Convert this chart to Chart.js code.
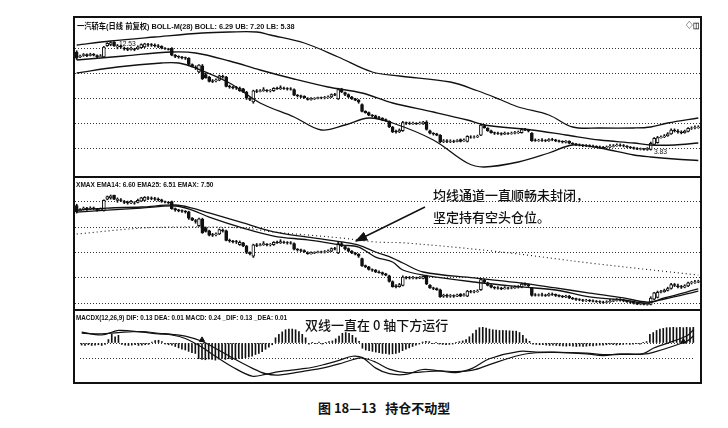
<!DOCTYPE html>
<html>
<head>
<meta charset="utf-8">
<script src="https://cdn.jsdelivr.net/npm/chart.js@4.4.0/dist/chart.umd.min.js"></script>
<style>
    body { margin: 0; width: 728px; height: 428px; background: #fff; position: relative; overflow: hidden;
           font-family: "Liberation Sans", "Noto Sans CJK SC", sans-serif; color: #111; }
    canvas { position: absolute; left: 75px; }
    .marco { position: absolute; left: 73px; top: 16px; width: 629px; height: 368px; box-sizing: border-box; border: 2px solid #111; }
    .sep { position: absolute; left: 74px; width: 627px; border-top: 2px solid #111; }
    .tit { position: absolute; font-size: 8px; font-weight: bold; white-space: nowrap; transform: scaleX(0.84); transform-origin: 0 0; }
    .nota { position: absolute; font-family: "Noto Sans CJK SC", sans-serif; font-size: 13px; font-weight: 500; white-space: pre; line-height: 18px; }
</style>
</head>
<body>
<canvas id="grafico1" width="625" height="158" style="top:18px"></canvas>
<canvas id="grafico2" width="625" height="131" style="top:178px"></canvas>
<canvas id="grafico3" width="625" height="71" style="top:311px"></canvas>
<div class="marco"></div>
<div class="sep" style="top:176px"></div>
<div class="sep" style="top:309px"></div>

<div class="tit" style="left:77px;top:20px;transform:scaleX(0.91)">一汽轿车(日线 前复权) BOLL-M(28) BOLL: 6.29 UB: 7.20 LB: 5.38</div>
<div class="tit" style="left:686px;top:19px">◇◫</div>
<div class="tit" style="left:119px;top:39px;font-weight:normal">12.53</div>
<div class="tit" style="left:654px;top:147px;font-weight:normal">3.83</div>
<div class="tit" style="left:76px;top:180px;transform:scaleX(0.82)">XMAX  EMA14: 6.60 EMA25: 6.51 EMAX: 7.50</div>
<div class="tit" style="left:76px;top:313px;transform:scaleX(0.79)">MACDX(12,26,9) DIF: 0.13 DEA: 0.01 MACD: 0.24 _DIF: 0.13 _DEA: 0.01</div>

<div class="nota" style="left:433px;top:186px">均线通道一直顺畅未封闭，</div>
<div class="nota" style="left:433px;top:208px">坚定持有空头仓位。</div>
<div class="nota" style="left:305px;top:316px">双线一直在 0 轴下方运行</div>
<div class="nota" style="left:318px;top:399px;font-weight:bold">图 18—13   持仓不动型</div>

<svg style="position:absolute;left:0;top:0" width="728" height="428">
    <defs><marker id="punta" markerWidth="9" markerHeight="7" refX="8" refY="3.5" orient="auto">
        <path d="M0,0 L9,3.5 L0,7 z" fill="#111"/></marker></defs>
    <line x1="425" y1="207" x2="356" y2="241" stroke="#111" stroke-width="1.4" marker-end="url(#punta)"/>
</svg>

<script>
// ====================== velas (precios) ======================
let apertura = [
    11.7, 11.3, 11.42, 11.5, 11.42, 11.52, 11.42, 11.35, 11.3, 12.2,
    12.3, 12.5, 12.1, 12.15, 12.0, 11.95, 11.9, 11.9, 11.95, 12.05,
    12.1, 12.3, 12.3, 12.25, 12.2, 12.15, 12.0, 11.95, 12.0, 11.45,
    11.35, 11.3, 11.25, 11.2, 10.7, 10.5, 10.1, 10.6, 9.9, 9.7,
    9.4, 9.4, 9.45, 9.75, 9.7, 8.95, 8.9, 8.85, 8.6, 8.75,
    8.5, 8.0, 7.7, 8.6, 8.55, 8.6, 8.65, 8.6, 8.6, 8.8,
    8.75, 8.8, 8.78, 8.75, 8.7, 8.25, 8.2, 8.15, 7.95, 7.9,
    7.95, 7.98, 8.05, 8.02, 8.05, 8.1, 8.3, 7.95, 8.7, 8.45,
    8.3, 8.1, 7.95, 7.85, 7.5, 6.95, 6.85, 6.65, 6.6, 6.45,
    6.4, 6.3, 6.15, 5.7, 5.35, 5.3, 5.4, 6.05, 6.0, 5.98,
    6.0, 5.97, 5.95, 6.1, 5.4, 5.2, 5.15, 5.05, 4.55, 4.6,
    4.55, 4.58, 4.55, 4.7, 4.6, 4.55, 4.9, 4.88, 4.9, 5.05,
    5.8, 5.6, 5.4, 5.25, 5.2, 5.18, 5.12, 5.2, 5.18, 5.2,
    5.25, 5.25, 5.5, 5.45, 5.2, 4.65, 4.62, 4.65, 4.62, 4.6,
    4.7, 4.68, 4.6, 4.55, 4.48, 4.55, 4.4, 4.35, 4.28, 4.25,
    4.2, 4.22, 4.18, 4.15, 4.12, 4.08, 4.05, 4.1, 4.15, 4.2,
    4.25, 4.22, 4.18, 4.1, 4.05, 3.98, 3.92, 3.95, 3.9, 3.9,
    4.3, 4.45, 4.85, 4.9, 5.0, 5.15, 5.45, 5.35, 5.3, 5.25,
    5.35, 5.6, 5.62, 5.65
];
let cierre = [
    11.2, 11.38, 11.5, 11.4, 11.5, 11.45, 11.32, 11.4, 12.1, 12.4,
    12.45, 12.2, 12.2, 12.1, 11.95, 11.9, 12.0, 11.88, 12.1, 12.3,
    12.35, 12.28, 12.25, 12.2, 12.15, 12.05, 11.98, 11.9, 11.45, 11.35,
    11.3, 11.25, 11.2, 10.7, 10.55, 10.45, 10.65, 9.55, 9.65, 9.35,
    9.35, 9.45, 9.8, 9.7, 8.95, 8.9, 8.85, 8.82, 8.8, 8.5,
    8.0, 7.9, 8.6, 8.55, 8.6, 8.7, 8.6, 8.62, 8.8, 8.75,
    8.85, 8.78, 8.75, 8.72, 8.25, 8.2, 8.15, 8.05, 7.9, 7.95,
    7.98, 8.05, 8.02, 8.05, 8.1, 8.3, 8.25, 8.7, 8.5, 8.3,
    8.1, 7.95, 7.85, 7.7, 6.95, 6.85, 6.65, 6.6, 6.45, 6.4,
    6.3, 6.2, 5.7, 5.3, 5.3, 5.45, 6.05, 6.0, 5.98, 6.0,
    5.97, 6.02, 6.1, 5.5, 5.2, 5.15, 5.05, 4.5, 4.6, 4.55,
    4.58, 4.55, 4.62, 4.55, 4.65, 4.95, 4.88, 4.9, 4.95, 5.85,
    5.65, 5.4, 5.25, 5.2, 5.18, 5.12, 5.2, 5.18, 5.2, 5.25,
    5.28, 5.5, 5.45, 5.38, 4.6, 4.62, 4.65, 4.62, 4.6, 4.7,
    4.68, 4.6, 4.55, 4.5, 4.55, 4.4, 4.35, 4.28, 4.25, 4.2,
    4.22, 4.18, 4.15, 4.12, 4.08, 4.05, 4.1, 4.15, 4.2, 4.25,
    4.22, 4.18, 4.1, 4.05, 3.98, 3.92, 3.95, 3.9, 3.98, 4.4,
    4.8, 4.85, 4.9, 5.0, 5.15, 5.45, 5.4, 5.3, 5.25, 5.35,
    5.6, 5.62, 5.65, 5.7
];
let maximo = [
    11.8, 11.45, 11.58, 11.55, 11.6, 11.58, 11.48, 11.5, 12.15, 12.45,
    12.53, 12.53, 12.3, 12.25, 12.1, 12.05, 12.1, 12.0, 12.2, 12.35,
    12.4, 12.4, 12.38, 12.35, 12.3, 12.2, 12.05, 12.0, 12.05, 11.5,
    11.4, 11.35, 11.3, 11.25, 10.75, 10.6, 10.7, 10.7, 10.0, 9.75,
    9.5, 9.55, 9.85, 9.85, 9.75, 9.05, 8.95, 8.95, 8.9, 8.8,
    8.55, 8.05, 8.65, 8.7, 8.7, 8.85, 8.7, 8.7, 8.85, 8.9,
    9.0, 8.9, 8.85, 8.85, 8.75, 8.3, 8.25, 8.2, 8.05, 8.05,
    8.05, 8.1, 8.1, 8.15, 8.2, 8.35, 8.4, 8.8, 8.8, 8.5,
    8.35, 8.15, 8.0, 7.9, 7.55, 7.0, 6.9, 6.7, 6.65, 6.55,
    6.45, 6.35, 6.2, 5.75, 5.45, 5.55, 6.15, 6.1, 6.1, 6.1,
    6.05, 6.1, 6.15, 6.2, 5.45, 5.25, 5.2, 5.1, 4.7, 4.7,
    4.68, 4.65, 4.7, 4.75, 4.75, 5.0, 5.0, 5.0, 5.05, 5.95,
    5.9, 5.65, 5.45, 5.3, 5.3, 5.25, 5.3, 5.25, 5.3, 5.35,
    5.38, 5.6, 5.6, 5.5, 5.25, 4.75, 4.72, 4.78, 4.7, 4.78,
    4.8, 4.72, 4.65, 4.6, 4.62, 4.6, 4.45, 4.4, 4.35, 4.3,
    4.3, 4.28, 4.25, 4.2, 4.18, 4.15, 4.18, 4.3, 4.3, 4.35,
    4.35, 4.3, 4.22, 4.15, 4.1, 4.05, 4.02, 4.0, 4.05, 4.5,
    4.85, 4.95, 5.0, 5.1, 5.25, 5.55, 5.55, 5.5, 5.4, 5.45,
    5.65, 5.72, 5.8, 5.8
];
let minimo = [
    11.1, 11.25, 11.35, 11.32, 11.38, 11.38, 11.25, 11.3, 11.25, 12.15,
    12.2, 12.15, 11.95, 12.0, 11.85, 11.8, 11.85, 11.8, 11.9, 12.0,
    12.05, 12.15, 12.15, 12.1, 12.05, 11.95, 11.9, 11.85, 11.4, 11.25,
    11.2, 11.15, 11.1, 10.6, 10.5, 10.3, 10.05, 9.5, 9.6, 9.3,
    9.25, 9.3, 9.4, 9.6, 8.9, 8.8, 8.75, 8.7, 8.55, 8.45,
    7.9, 7.8, 7.6, 8.45, 8.5, 8.55, 8.5, 8.5, 8.55, 8.7,
    8.7, 8.7, 8.65, 8.65, 8.2, 8.1, 8.05, 8.0, 7.85, 7.85,
    7.9, 7.95, 7.95, 7.95, 8.0, 8.05, 8.2, 7.9, 8.45, 8.2,
    8.05, 7.9, 7.8, 7.6, 6.9, 6.8, 6.6, 6.5, 6.4, 6.35,
    6.2, 6.15, 5.65, 5.25, 5.2, 5.25, 5.35, 5.9, 5.9, 5.9,
    5.9, 5.92, 5.9, 5.45, 5.15, 5.05, 5.0, 4.45, 4.45, 4.45,
    4.45, 4.45, 4.5, 4.5, 4.55, 4.5, 4.8, 4.8, 4.85, 5.0,
    5.6, 5.35, 5.2, 5.1, 5.1, 5.05, 5.1, 5.1, 5.12, 5.15,
    5.18, 5.2, 5.4, 5.3, 4.55, 4.55, 4.55, 4.55, 4.52, 4.55,
    4.6, 4.52, 4.48, 4.42, 4.42, 4.35, 4.28, 4.2, 4.18, 4.12,
    4.12, 4.1, 4.08, 4.05, 4.0, 3.98, 4.0, 4.05, 4.1, 4.15,
    4.15, 4.1, 4.05, 3.98, 3.92, 3.88, 3.86, 3.85, 3.83, 3.85,
    4.25, 4.4, 4.8, 4.85, 4.95, 5.1, 5.3, 5.2, 5.15, 5.2,
    5.3, 5.5, 5.55, 5.6
];

// ====================== BOLL (indice de vela, valor) ======================
let bollSuperior = [[0, 12.26], [10, 12.58], [23, 12.9], [37, 13.22], [45, 13.3], [53, 13.3], [57, 13.06],
    [67, 12.42], [77, 11.3], [87, 10.1], [95, 9.78], [110, 9.3], [118, 8.6], [125, 7.86], [130, 7.3],
    [139, 6.66], [146, 5.7], [154, 5.62], [164, 5.62], [169, 5.7], [174, 6.02], [183, 6.42]];
let bollMedio = [[0, 11.06], [14, 11.38], [28, 11.7], [35, 11.62], [45, 10.98], [54, 10.26], [64, 9.54],
    [74, 8.9], [84, 8.42], [93, 7.62], [105, 6.9], [115, 6.26], [120, 5.86], [134, 5.46], [144, 5.06],
    [154, 4.66], [164, 4.42], [169, 4.26], [176, 4.26], [183, 4.42]];
let bollInferior = [[0, 10.02], [12, 10.5], [25, 10.82], [30, 10.82], [35, 10.42], [45, 9.22], [54, 7.62],
    [64, 6.5], [72, 5.46], [79, 5.86], [86, 6.42], [93, 6.02], [105, 4.66], [115, 2.82], [120, 2.5],
    [130, 2.9], [139, 3.62], [146, 4.26], [154, 4.02], [164, 3.46], [169, 3.3], [176, 3.14], [183, 3.02]];

// ====================== EMA ======================
let ema14 = [[0, 11.18], [9, 11.34], [19, 11.5], [29, 11.66], [34, 11.34], [39, 10.79], [49, 9.92], [58, 9.29],
    [68, 8.98], [78, 8.58], [83, 8.42], [88, 7.63], [93, 7.24], [96, 6.61], [102, 6.21], [117, 5.66],
    [131, 5.27], [141, 5.03], [151, 4.48], [161, 4.24], [168, 4.0], [173, 4.4], [183, 5.11]];
let ema25 = [[0, 11.34], [9, 11.5], [19, 11.58], [29, 11.74], [34, 11.5], [39, 11.11], [49, 10.32], [58, 9.61],
    [68, 9.21], [78, 8.82], [83, 8.58], [88, 8.03], [93, 7.55], [96, 7.16], [102, 6.45], [117, 5.98],
    [131, 5.58], [141, 5.19], [151, 4.79], [161, 4.4], [168, 4.08], [173, 4.32], [183, 4.95]];
let emaX = [[0, 9.45], [19, 9.92], [29, 10.0], [39, 10.0], [49, 9.92], [58, 9.61], [68, 9.37], [78, 9.13],
    [88, 8.82], [97, 8.74], [125, 8.03], [151, 7.16], [183, 6.21]];

// ====================== MACD ======================
let macdBarras = [
    -0.06, -0.07, -0.05, -0.07, -0.06, -0.05, -0.07, -0.04,
    0.1, 0.25, 0.18, 0.22,
    -0.04, -0.06, -0.07, -0.06, -0.05, -0.07, -0.06, -0.05, -0.04,
    0.03, 0.07, 0.08, 0.04,
    -0.03, -0.05, -0.06,
    -0.1, -0.14, -0.18, -0.2, -0.24, -0.28, -0.3,
    -0.45, -0.47, -0.48, -0.46, -0.47, -0.49, -0.46, -0.44, -0.47, -0.45, -0.48, -0.46, -0.44, -0.45, -0.42, -0.4, -0.38, -0.33, -0.3,
    -0.25, -0.18, -0.12, -0.05,
    0.15, 0.25, 0.32, 0.38, 0.4, 0.4, 0.38, 0.33, 0.25, 0.15,
    -0.03, 0.02, -0.02, 0.03, -0.03, 0.02, 0.04, 0.06,
    0.12, 0.2, 0.28, 0.3, 0.28, 0.22, 0.15, 0.05,
    -0.15, -0.2, -0.22, -0.24, -0.26, -0.28, -0.3, -0.3, -0.32, -0.31, -0.3,
    -0.27, -0.22, -0.18, -0.14, -0.1, -0.06,
    -0.03, 0.03, 0.05, 0.04, -0.02, 0.02, -0.03, -0.04, -0.05, -0.04, -0.03, 0.02, 0.04, 0.06, 0.1,
    0.18, 0.27, 0.37, 0.44, 0.45, 0.43, 0.4, 0.38, 0.37, 0.36, 0.36, 0.36, 0.35, 0.34, 0.34, 0.3, 0.22, 0.12, 0.05,
    -0.03, -0.04, -0.05, -0.05, -0.06, -0.07, -0.06, -0.07, -0.08, -0.08, -0.09, -0.08, -0.09, -0.1, -0.09, -0.1, -0.09,
    -0.08, -0.08, -0.07, -0.06, -0.06, -0.05, -0.04, -0.05, -0.06, -0.05, -0.04, -0.03, -0.04, -0.03, -0.02, -0.03, 0.02, 0.04,
    0.25, 0.3, 0.36, 0.4, 0.42, 0.44, 0.44, 0.45, 0.44, 0.45, 0.44, 0.45, 0.44, 0.45
];
let dif = [[0, 0.31], [6, 0.23], [11, 0.36], [18, 0.31], [23, 0.26], [27, 0.23], [31, 0.13], [36, -0.12],
    [40, -0.38], [45, -0.68], [51, -0.95], [55, -0.9], [59, -0.82], [67, -0.73], [72, -0.63], [77, -0.5],
    [81, -0.38], [84, -0.42], [88, -0.72], [92, -0.88], [97, -0.9], [102, -0.76], [107, -0.8], [112, -0.85],
    [117, -0.72], [122, -0.45], [131, -0.24], [136, -0.26], [141, -0.26], [151, -0.31], [156, -0.36],
    [161, -0.31], [168, -0.3], [171, -0.15], [181, 0.2], [183, 0.38]];
let dea = [[0, 0.28], [6, 0.26], [11, 0.3], [18, 0.33], [23, 0.28], [27, 0.25], [31, 0.2], [36, 0.05],
    [40, -0.15], [45, -0.42], [51, -0.72], [55, -0.88], [59, -0.92], [67, -0.8], [72, -0.72], [77, -0.6],
    [81, -0.48], [84, -0.43], [88, -0.55], [92, -0.75], [97, -0.85], [102, -0.83], [107, -0.8], [112, -0.82],
    [117, -0.78], [122, -0.62], [131, -0.35], [136, -0.28], [141, -0.27], [151, -0.29], [156, -0.33],
    [161, -0.33], [168, -0.32], [171, -0.27], [181, 0.05], [183, 0.2]];
let macdSenales = [[36, 0.09], [180, 0.04]];

// lineas punteadas de cada panel
let rejilla1 = [4, 6, 8, 10, 12];
let rejilla2 = [4, 6, 8, 10, 12];
let rejilla3 = [-0.45, 0];

let totalVelas = cierre.length;

function velas() {
    return [{
        type: 'bar',
        data: minimo.map((m, i) => ({ x: i, y: [m, maximo[i]] })),
        backgroundColor: '#111',
        barThickness: 1,
        grouped: false,
        order: 3
    }, {
        type: 'bar',
        data: apertura.map((a, i) => ({ x: i, y: [a, cierre[i]] })),
        backgroundColor: ctx => cierre[ctx.dataIndex] >= apertura[ctx.dataIndex] ? '#fff' : '#111',
        borderColor: '#111',
        borderWidth: 1,
        borderSkipped: false,
        barThickness: 3,
        grouped: false,
        order: 2
    }];
}

function linea(puntos, extra) {
    return Object.assign({
        type: 'line',
        data: puntos.map(p => ({ x: p[0], y: p[1] })),
        borderColor: '#111',
        borderWidth: 1.3,
        pointRadius: 0,
        tension: 0.35,
        order: 1
    }, extra || {});
}

function opciones(min, max, rejilla) {
    return {
        responsive: false,
        animation: false,
        events: [],
        layout: { padding: 0 },
        plugins: { legend: { display: false }, tooltip: { enabled: false } },
        scales: {
            x: { type: 'linear', min: -0.5, max: totalVelas - 0.5, offset: false, display: false },
            y: {
                min: min, max: max,
                afterBuildTicks: s => { s.ticks = rejilla.map(v => ({ value: v })); },
                ticks: { display: false },
                grid: { color: '#333', lineWidth: 1, drawTicks: false },
                border: { display: false, dash: [1, 2] }
            }
        }
    };
}

// GRAFICO 1 - BOLL
new Chart(document.getElementById('grafico1').getContext('2d'), {
    data: { datasets: velas().concat([linea(bollSuperior), linea(bollMedio), linea(bollInferior)]) },
    options: opciones(1.78, 14.42, rejilla1)
});

// GRAFICO 2 - EMA
new Chart(document.getElementById('grafico2').getContext('2d'), {
    data: { datasets: velas().concat([linea(ema14), linea(ema25), linea(emaX, { borderWidth: 1.1, borderDash: [1, 3] })]) },
    options: opciones(3.53, 13.87, rejilla2)
});

// GRAFICO 3 - MACD
new Chart(document.getElementById('grafico3').getContext('2d'), {
    data: {
        datasets: [{
            type: 'bar',
            data: macdBarras.map((v, i) => ({ x: i, y: v })),
            backgroundColor: '#111',
            barThickness: 1,
            grouped: false,
            order: 3
        },
        linea(dif, { borderWidth: 1.2 }),
        linea(dea, { borderWidth: 1.2 }),
        {
            type: 'scatter',
            data: macdSenales.map(p => ({ x: p[0], y: p[1] })),
            pointStyle: 'triangle',
            pointRadius: 3,
            backgroundColor: '#111',
            borderColor: '#111',
            order: 0
        }]
    },
    options: opciones(-0.975, 0.775, rejilla3)
});
</script>
</body>
</html>
